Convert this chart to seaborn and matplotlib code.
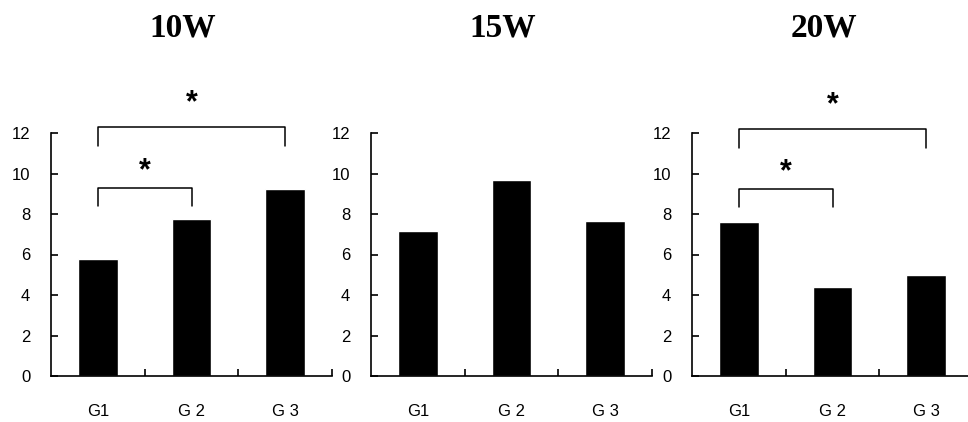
import matplotlib
matplotlib.use("Agg")
import matplotlib.pyplot as plt
import seaborn as sns
import pandas as pd

# ---- data ----
categories = ["G1", "G 2", "G 3"]
panel_titles = ["10W", "15W", "20W"]
values_10w = [5.8, 7.75, 9.25]
values_15w = [7.15, 9.7, 7.65]
values_20w = [7.6, 4.4, 5.0]
# significance brackets: (group a, group b, bracket height)
sig_10w = [(0, 1, 9.3), (0, 2, 12.28)]
sig_15w = []
sig_20w = [(0, 1, 9.24), (0, 2, 12.18)]
y_ticks = [0, 2, 4, 6, 8, 10, 12]

sns.set_theme(style="white")
plt.rcParams["font.family"] = ["Liberation Sans", "DejaVu Sans"]

W, H = 968, 422
fig = plt.figure(figsize=(W / 100, H / 100), dpi=100)

panels = [(values_10w, sig_10w), (values_15w, sig_15w), (values_20w, sig_20w)]
lefts = [51, 371, 692]
ax_w = 281
bottom_px = 376
top_px = 133

for i, (vals, sigs) in enumerate(panels):
    ax = fig.add_axes([lefts[i] / W, 1 - bottom_px / H, ax_w / W, (bottom_px - top_px) / H])
    df = pd.DataFrame({"group": categories, "value": vals})
    sns.barplot(data=df, x="group", y="value", color="black", saturation=1,
                width=0.42, ax=ax)
    ax.set_xlim(-0.5, 2.5)
    ax.set_ylim(0, 12)
    ax.set_yticks(y_ticks)
    ax.set_xlabel("")
    ax.set_ylabel("")
    for s in ["top", "right"]:
        ax.spines[s].set_visible(False)
    for s in ["left", "bottom"]:
        ax.spines[s].set_color("black")
        ax.spines[s].set_linewidth(1.2)
    ax.set_xticks([0, 1, 2])
    ax.set_xticklabels(categories)
    ax.set_xticks([0.5, 1.5, 2.5], minor=True)
    ax.tick_params(axis="x", which="major", length=0, pad=20, labelsize=12, colors="black")
    ax.tick_params(axis="x", which="minor", direction="in", length=5, width=1.2,
                   color="black", bottom=True)
    ax.tick_params(axis="y", direction="in", length=5, width=1.2, pad=15,
                   labelsize=12, colors="black", left=True)
    ax.patch.set_alpha(0)

    for k, (a, b, h) in enumerate(sigs):
        leg = 0.9
        ax.plot([a, a, b, b], [h - leg, h, h, h - leg], color="black", lw=1.1,
                clip_on=False)
        off = 0.8 if (b - a) == 1 else 1.2
        ax.text((a + b) / 2, h + off, "*", ha="center", va="center", fontsize=22,
                fontweight="bold", color="black", clip_on=False)

    ax.text(0.47, 1 + (top_px - 28) / (bottom_px - top_px), panel_titles[i],
            transform=ax.transAxes, ha="center", va="center", fontsize=24,
            fontweight="bold", family=["Liberation Serif", "DejaVu Serif"], color="black")

fig.savefig("out.png", dpi=100, facecolor="white")
